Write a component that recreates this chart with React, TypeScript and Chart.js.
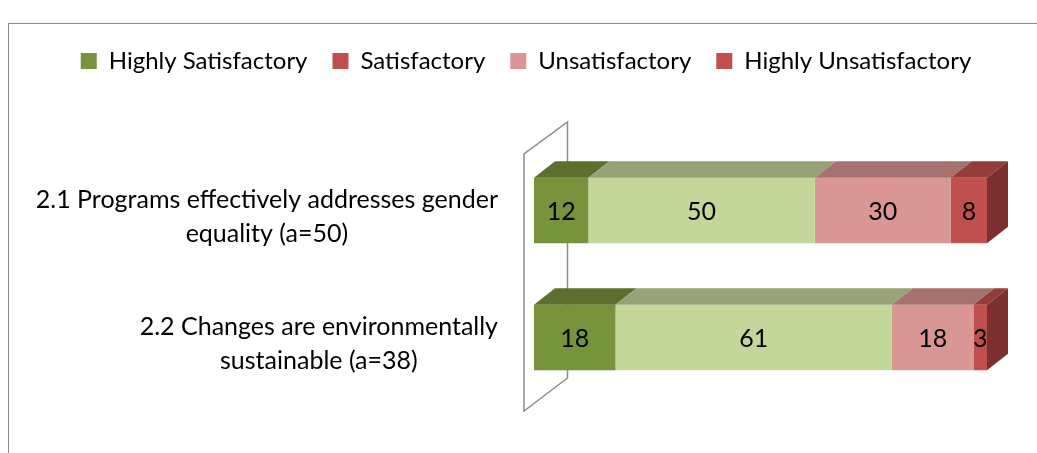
import React, { useEffect, useRef } from "react";
import { Chart, registerables } from "chart.js";
Chart.register(...registerables);

const categories: string[][] = [
  ["2.1 Programs effectively addresses gender", "equality (a=50)"],
  ["2.2 Changes are environmentally", "sustainable (a=38)"],
];
const seriesNames = ["Highly Satisfactory", "Satisfactory", "Unsatisfactory", "Highly Unsatisfactory"];
const highlySatisfactory = [12, 18];
const satisfactory = [50, 61];
const unsatisfactory = [30, 18];
const highlyUnsatisfactory = [8, 3];

const barColors = ["#77933C", "#C4D79B", "#D99694", "#C0504D"];
const topColors = ["#5B6F2E", "#96A376", "#A67270", "#933D3B"];
const sideColors = ["#4A5B25", "#7C8762", "#8A5E5C", "#7A302E"];
const legendColors = ["#77933C", "#C0504D", "#D99694", "#C0504D"];

const FONT = "Lato, 'DejaVu Sans', sans-serif";
const FS = 25;
const LEGEND_FS = 24;
const DX = 21;
const DY = 16.5;

const threeD = {
  id: "threeD",
  beforeDatasetsDraw(chart: any) {
    const { ctx, chartArea: a } = chart;
    ctx.save();
    ctx.strokeStyle = "#8c8c8c";
    ctx.lineWidth = 1.5;
    const fx = a.left - 10;
    const bx = a.left + 33.5;
    ctx.beginPath();
    ctx.moveTo(fx, a.top + 7);
    ctx.lineTo(fx, a.bottom + 10);
    ctx.lineTo(bx, a.bottom - 23);
    ctx.lineTo(bx, a.top - 25);
    ctx.closePath();
    ctx.stroke();
    ctx.restore();
  },
  afterDatasetsDraw(chart: any) {
    const ctx = chart.ctx;
    const n = chart.data.datasets.length;
    ctx.save();
    for (let i = 0; i < n; i++) {
      const meta = chart.getDatasetMeta(i);
      meta.data.forEach((el: any) => {
        const { x, y, base, height } = el.getProps(["x", "y", "base", "height"], true);
        const x0 = Math.min(x, base);
        const x1 = Math.max(x, base);
        const T = y - height / 2;
        const B = y + height / 2;
        ctx.fillStyle = topColors[i];
        ctx.beginPath();
        ctx.moveTo(x0, T);
        ctx.lineTo(x1, T);
        ctx.lineTo(x1 + DX, T - DY);
        ctx.lineTo(x0 + DX, T - DY);
        ctx.closePath();
        ctx.fill();
        if (i === n - 1) {
          ctx.fillStyle = sideColors[i];
          ctx.beginPath();
          ctx.moveTo(x1, T);
          ctx.lineTo(x1 + DX, T - DY);
          ctx.lineTo(x1 + DX, B - DY);
          ctx.lineTo(x1, B);
          ctx.closePath();
          ctx.fill();
        }
      });
    }
    // data labels
    ctx.fillStyle = "#000";
    ctx.font = `${FS}px ${FONT}`;
    ctx.textAlign = "center";
    ctx.textBaseline = "middle";
    for (let i = 0; i < n; i++) {
      const meta = chart.getDatasetMeta(i);
      const vals = chart.data.datasets[i].data;
      meta.data.forEach((el: any, j: number) => {
        const { x, y, base } = el.getProps(["x", "y", "base"], true);
        ctx.fillText(String(vals[j]), (x + base) / 2, y + 1);
      });
    }
    ctx.restore();
  },
  afterDraw(chart: any) {
    const { ctx, chartArea: a } = chart;
    const meta = chart.getDatasetMeta(0);
    ctx.save();
    ctx.fillStyle = "#000";
    ctx.font = `${FS}px ${FONT}`;
    ctx.textAlign = "center";
    ctx.textBaseline = "middle";
    const right = a.left - 36;
    const lh = 34;
    categories.forEach((lines, j) => {
      const el = meta.data[j];
      const yc = el.y + 6;
      const w = Math.max(...lines.map((l) => ctx.measureText(l).width));
      const cx = right - w / 2;
      lines.forEach((l, k) => {
        ctx.fillText(l, cx, yc + (k - (lines.length - 1) / 2) * lh);
      });
    });
    ctx.restore();
  },
};

export default function App() {
  const ref = useRef<HTMLCanvasElement>(null);
  useEffect(() => {
    const series = [highlySatisfactory, satisfactory, unsatisfactory, highlyUnsatisfactory];
    const chart = new Chart(ref.current as HTMLCanvasElement, {
      type: "bar",
      data: {
        labels: categories.map((c) => c.join(" ")),
        datasets: series.map((d, i) => ({
          label: seriesNames[i],
          data: d,
          backgroundColor: barColors[i],
          borderWidth: 0,
          categoryPercentage: 1,
          barPercentage: 0.515,
        })),
      },
      options: {
        indexAxis: "y",
        responsive: false,
        animation: false,
        layout: { padding: { left: 0, right: 50, top: 0, bottom: 52 } },
        plugins: {
          tooltip: { enabled: false },
          legend: {
            position: "top",
            labels: {
              color: "#000",
              font: { family: FONT, size: LEGEND_FS },
              boxWidth: 16,
              boxHeight: 16,
              padding: 25,
              generateLabels: () =>
                seriesNames.map((t, i) => ({
                  text: t,
                  fillStyle: legendColors[i],
                  strokeStyle: legendColors[i],
                  lineWidth: 0,
                  hidden: false,
                  datasetIndex: i,
                })),
            },
          },
        },
        scales: {
          x: {
            type: "linear",
            position: "top",
            stacked: true,
            min: 0,
            max: 100,
            ticks: { display: false },
            grid: { display: false },
            border: { display: false },
            afterFit: (s: any) => {
              s.height = 64;
            },
          },
          y: {
            type: "category",
            stacked: true,
            ticks: { display: false },
            grid: { display: false },
            border: { display: false },
            afterFit: (s: any) => {
              s.width = 525;
            },
          },
          yRight: {
            type: "category",
            axis: "y",
            position: "right",
            ticks: { display: false },
            grid: { display: false },
            border: { display: false },
            afterFit: (s: any) => {
              s.width = 56;
            },
          },
        },
      },
      plugins: [threeD],
    } as any);
    return () => chart.destroy();
  }, []);
  return (
    <div
      style={{
        position: "absolute",
        left: 8,
        top: 23,
        width: 1029,
        height: 430,
        boxSizing: "border-box",
        borderLeft: "1px solid #8a8a8a",
        borderTop: "1px solid #8a8a8a",
        background: "#fff",
        overflow: "hidden",
      }}
    >
      <canvas ref={ref} width={1084} height={429} style={{ display: "block", width: 1084, height: 429 }} />
    </div>
  );
}
